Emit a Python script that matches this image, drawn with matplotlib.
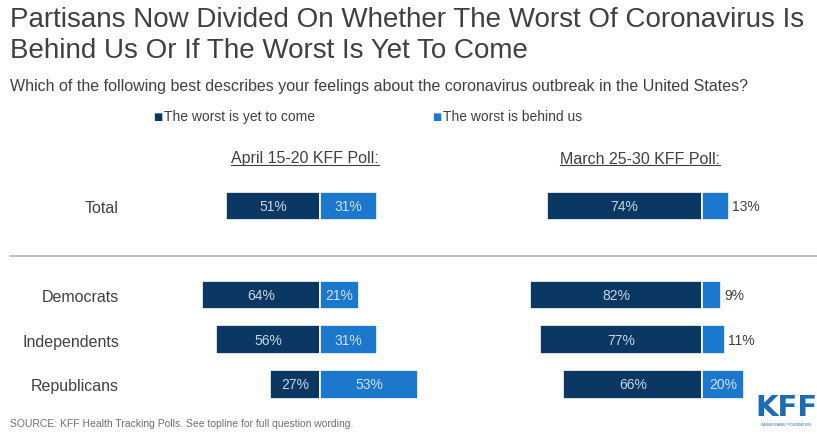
import matplotlib.pyplot as plt
from matplotlib.lines import Line2D

plt.rcParams['font.family'] = ['Liberation Sans', 'DejaVu Sans']

groups = ['Total', 'Democrats', 'Independents', 'Republicans']
rows = [0, 2, 3, 4]
april_worst_to_come = [51, 64, 56, 27]
april_worst_behind = [31, 21, 31, 53]
march_worst_to_come = [74, 82, 77, 66]
march_worst_behind = [13, 9, 11, 20]

navy = '#0b3862'
blue = '#1b78cc'
grey = '#404040'

W, H = 817, 435
fig = plt.figure(figsize=(W / 100, H / 100), dpi=100)


def px_axes(x0, x1, y0, y1):
    # pixel box (top-left origin) -> figure axes
    return fig.add_axes([x0 / W, 1 - y1 / H, (x1 - x0) / W, (y1 - y0) / H])


def panel(ax, yet, behind, small_cut):
    ax.barh(rows, [-v for v in yet], height=0.64, color=navy,
            edgecolor='white', linewidth=1.2)
    ax.barh(rows, behind, height=0.64, color=blue,
            edgecolor='white', linewidth=1.2)
    for r, v in zip(rows, yet):
        ax.text(-v / 2, r, f'{v}%', ha='center', va='center',
                color='#c9d6e6', fontsize=10)
    for r, v in zip(rows, behind):
        if v >= small_cut:
            ax.text(v / 2, r, f'{v}%', ha='center', va='center',
                    color='#cfe0f2', fontsize=10)
        else:
            ax.text(v + 1.5, r, f'{v}%', ha='left', va='center',
                    color=grey, fontsize=10)
    ax.set_ylim(4.55, -0.6)
    for s in ax.spines.values():
        s.set_visible(False)
    ax.set_xticks([])


# left panel: zero at x=320 px, ~1.85 px per point
axl = px_axes(130, 460, 180, 410)
axl.set_xlim(-(320 - 130) / 1.85, (460 - 320) / 1.85)
panel(axl, april_worst_to_come, april_worst_behind, 15)
axl.set_yticks(rows)
axl.set_yticklabels(groups, fontsize=11.5, color=grey)
axl.tick_params(axis='y', length=0, pad=8)

# right panel: zero at x=702 px, ~2.1 px per point
axr = px_axes(470, 800, 180, 410)
axr.set_xlim(-(702 - 470) / 2.1, (800 - 702) / 2.1)
panel(axr, march_worst_to_come, march_worst_behind, 15)
axr.set_yticks([])

# separator line between Total and the party rows
fig.add_artist(Line2D([10 / W, 1], [1 - 257 / H] * 2, color='#b8b8b8',
                      lw=1.2, transform=fig.transFigure))

# titles
fig.text(10 / W, 1 - 20 / H, 'Partisans Now Divided On Whether The Worst Of Coronavirus Is',
         fontsize=20, color=grey, va='center')
fig.text(10 / W, 1 - 51 / H, 'Behind Us Or If The Worst Is Yet To Come',
         fontsize=20, color=grey, va='center')
fig.text(10 / W, 1 - 87 / H,
         'Which of the following best describes your feelings about the coronavirus outbreak in the United States?',
         fontsize=11.5, color=grey, va='center')

# legend
for xs, col, lab in [(153, navy, 'The worst is yet to come'),
                     (432, blue, 'The worst is behind us')]:
    fig.text(xs / W, 1 - 117 / H, '\u25A0', color=col, fontsize=7, va='center',
             family='DejaVu Sans')
    fig.text((xs + 11) / W, 1 - 117 / H, lab, color=grey, fontsize=10, va='center')

# panel headers, underlined
heads = [(305, 'April 15-20 KFF Poll:'), (640, 'March 25-30 KFF Poll:')]
head_texts = []
for xc, lab in heads:
    head_texts.append(fig.text(xc / W, 1 - 159 / H, lab, ha='center', va='center',
                               fontsize=11.5, color=grey))
fig.canvas.draw()
for t in head_texts:
    bb = t.get_window_extent().transformed(fig.transFigure.inverted())
    fig.add_artist(Line2D([bb.x0, bb.x1], [bb.y0 + 0.002] * 2, color=grey,
                          lw=0.8, transform=fig.transFigure))

# source and logo
fig.text(10 / W, 1 - 424 / H,
         'SOURCE: KFF Health Tracking Polls. See topline for full question wording.',
         fontsize=7.5, color='#707070', va='center')
fig.text(786 / W, 1 - 408 / H, 'KFF', fontsize=21, fontweight='bold',
         color='#1a6cb4', ha='center', va='center', family='DejaVu Sans')
fig.text(786 / W, 1 - 425 / H, 'KAISER FAMILY FOUNDATION', fontsize=2.5,
         color='#1a6cb4', ha='center', va='center')

fig.savefig('out.png', dpi=100)
